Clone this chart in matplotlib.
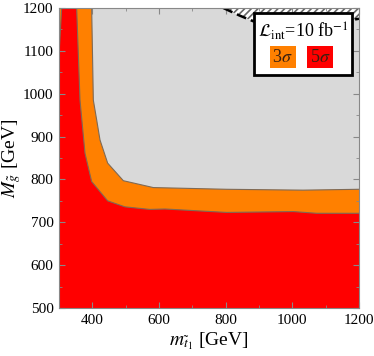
import matplotlib
matplotlib.use("Agg")
import matplotlib.pyplot as plt
import numpy as np

plt.rcParams['font.family'] = ['Liberation Serif', 'DejaVu Serif']
plt.rcParams['mathtext.fontset'] = 'stix'
plt.rcParams['hatch.linewidth'] = 1.2

# boundaries: stop mass, gluino mass (GeV)
x5 = [353, 363, 378, 398, 446, 498, 573, 618, 803, 1003, 1073, 1200]
y5 = [1200, 985, 861, 795, 750, 736, 730, 731, 723, 725, 721, 721]
x5_left = [300, 308]
y5_left = [1090, 1200]

x3 = [398, 403, 413, 423, 446, 493, 583, 803, 1032, 1200]
y3 = [1200, 985, 939, 892, 838, 797, 781, 777, 775, 777]

# excluded region (dashed curve, hatched above)
xh = [793, 840, 883, 950, 1050, 1150, 1200]
yh = [1200, 1183, 1169, 1163, 1163, 1168, 1175]

xmin, xmax, ymin, ymax = 300, 1200, 500, 1200

fig = plt.figure(figsize=(3.74, 3.56), dpi=100)
ax = fig.add_axes([59/374, 48/356, 300/374, 300/356])
ax.set_facecolor('#d9d9d9')

edge = '#7f6a55'
# 3 sigma region
px = [xmin, xmax] + list(x3[::-1]) + [xmin]
py = [ymin, ymin] + list(y3[::-1]) + [ymax]
ax.fill(px, py, color='#ff8000', lw=0)
ax.plot(x3, y3, color=edge, lw=0.8)

# 5 sigma region
rx = [xmin, xmax] + list(x5[::-1]) + x5_left[::-1]
ry = [ymin, ymin] + list(y5[::-1]) + y5_left[::-1]
ax.fill(rx, ry, color='#ff0000', lw=0)
ax.plot(x5, y5, color=edge, lw=0.8)
ax.plot(x5_left, y5_left, color=edge, lw=0.8)

# hatched excluded region
ax.fill_between(xh, yh, ymax, facecolor='white', edgecolor='#666666',
                hatch='/////', lw=0)
ax.plot(xh, yh, color='black', lw=1.8, ls=(0, (4, 2)))

ax.set_xlim(xmin, xmax)
ax.set_ylim(ymin, ymax)
ax.set_xticks([400, 600, 800, 1000, 1200])
ax.set_yticks(np.arange(500, 1201, 100))
ax.set_xticks(np.arange(300, 1201, 100), minor=True)
ax.set_yticks(np.arange(500, 1201, 50), minor=True)
ax.tick_params(which='both', direction='in', top=True, right=True,
               labelsize=11, color='#888888', pad=4)
ax.tick_params(which='major', length=4)
ax.tick_params(which='minor', length=2)
for s in ax.spines.values():
    s.set_color('#888888')
    s.set_linewidth(0.8)

ax.set_xlabel(r'$m_{\tilde{t}_1}$ [GeV]', fontsize=14, labelpad=3)
ax.set_ylabel(r'$M_{\tilde{g}}$ [GeV]', fontsize=14, labelpad=0)

# legend box
box = plt.Rectangle((254/374, (356-75)/356), (352-254)/374, (75-12.7)/356,
                    transform=fig.transFigure, facecolor='white',
                    edgecolor='black', lw=2, zorder=5)
fig.patches.append(box)
fig.text(303/374, (356-31)/356, r'$\mathcal{L}_{\rm int}$=10 fb$^{-1}$',
         ha='center', va='center', fontsize=13, zorder=6)
for x0, col, lab in [(269.5, '#ff8000', r'3$\sigma$'), (307, '#ff0000', r'5$\sigma$')]:
    fig.patches.append(plt.Rectangle((x0/374, (356-68.3)/356), 26/374, 22.3/356,
                                     transform=fig.transFigure, facecolor=col,
                                     lw=0, zorder=6))
    fig.text((x0+13)/374, (356-57)/356, lab, ha='center', va='center',
             fontsize=13, color='#3a2010', zorder=7)

fig.savefig('out.png', dpi=100)
